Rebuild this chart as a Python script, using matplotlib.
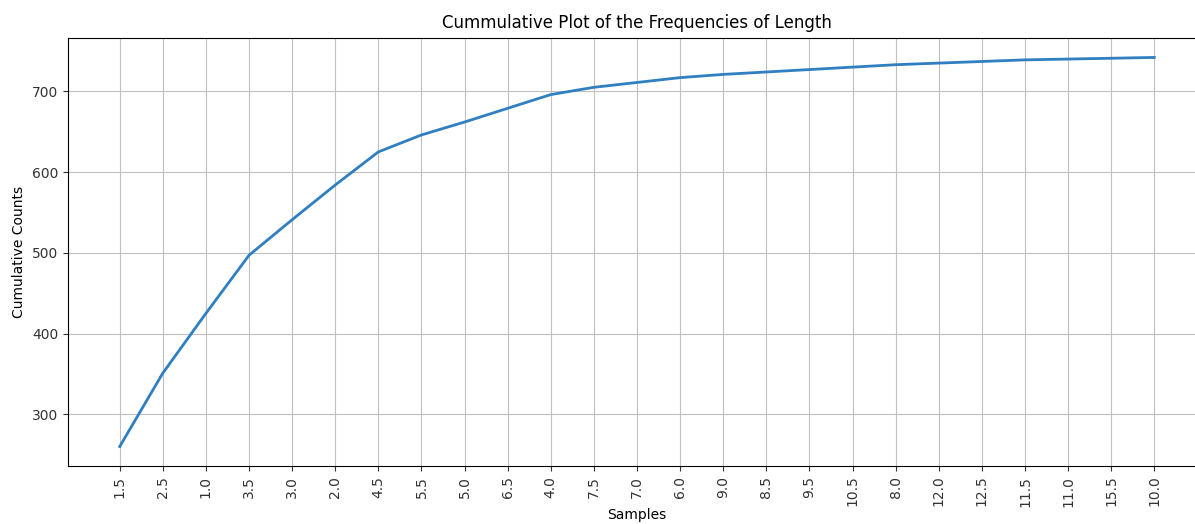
import matplotlib
matplotlib.use("Agg")
import matplotlib.pyplot as plt

# samples in frequency order, with cumulative counts
samples = ["1.5", "2.5", "1.0", "3.5", "3.0", "2.0", "4.5", "5.5", "5.0", "6.5",
           "4.0", "7.5", "7.0", "6.0", "9.0", "8.5", "9.5", "10.5", "8.0", "12.0",
           "12.5", "11.5", "11.0", "15.5", "10.0"]
cumulative = [260, 351, 425, 497, 541, 584, 625, 646, 662, 679,
              696, 705, 711, 717, 721, 724, 727, 730, 733, 735,
              737, 739, 740, 741, 742]

fig = plt.figure(figsize=(11.95, 5.24), dpi=100)
ax = fig.add_axes([0.0569, 0.1107, 0.9523, 0.8168])

ax.plot(range(len(samples)), cumulative, color="#2f7fc1", linewidth=2)
ax.grid(True, color="silver")
ax.set_axisbelow(True)
ax.set_xticks(range(len(samples)))
ax.set_xticklabels(samples, rotation=90)
ax.tick_params(colors="#333333", labelsize=10)
ax.set_title("Cummulative Plot of the Frequencies of Length", fontsize=12, pad=7)
ax.set_xlabel("Samples", labelpad=1)
ax.set_ylabel("Cumulative Counts")
ax.set_yticks([300, 400, 500, 600, 700])

plt.savefig("out.png", dpi=100)
